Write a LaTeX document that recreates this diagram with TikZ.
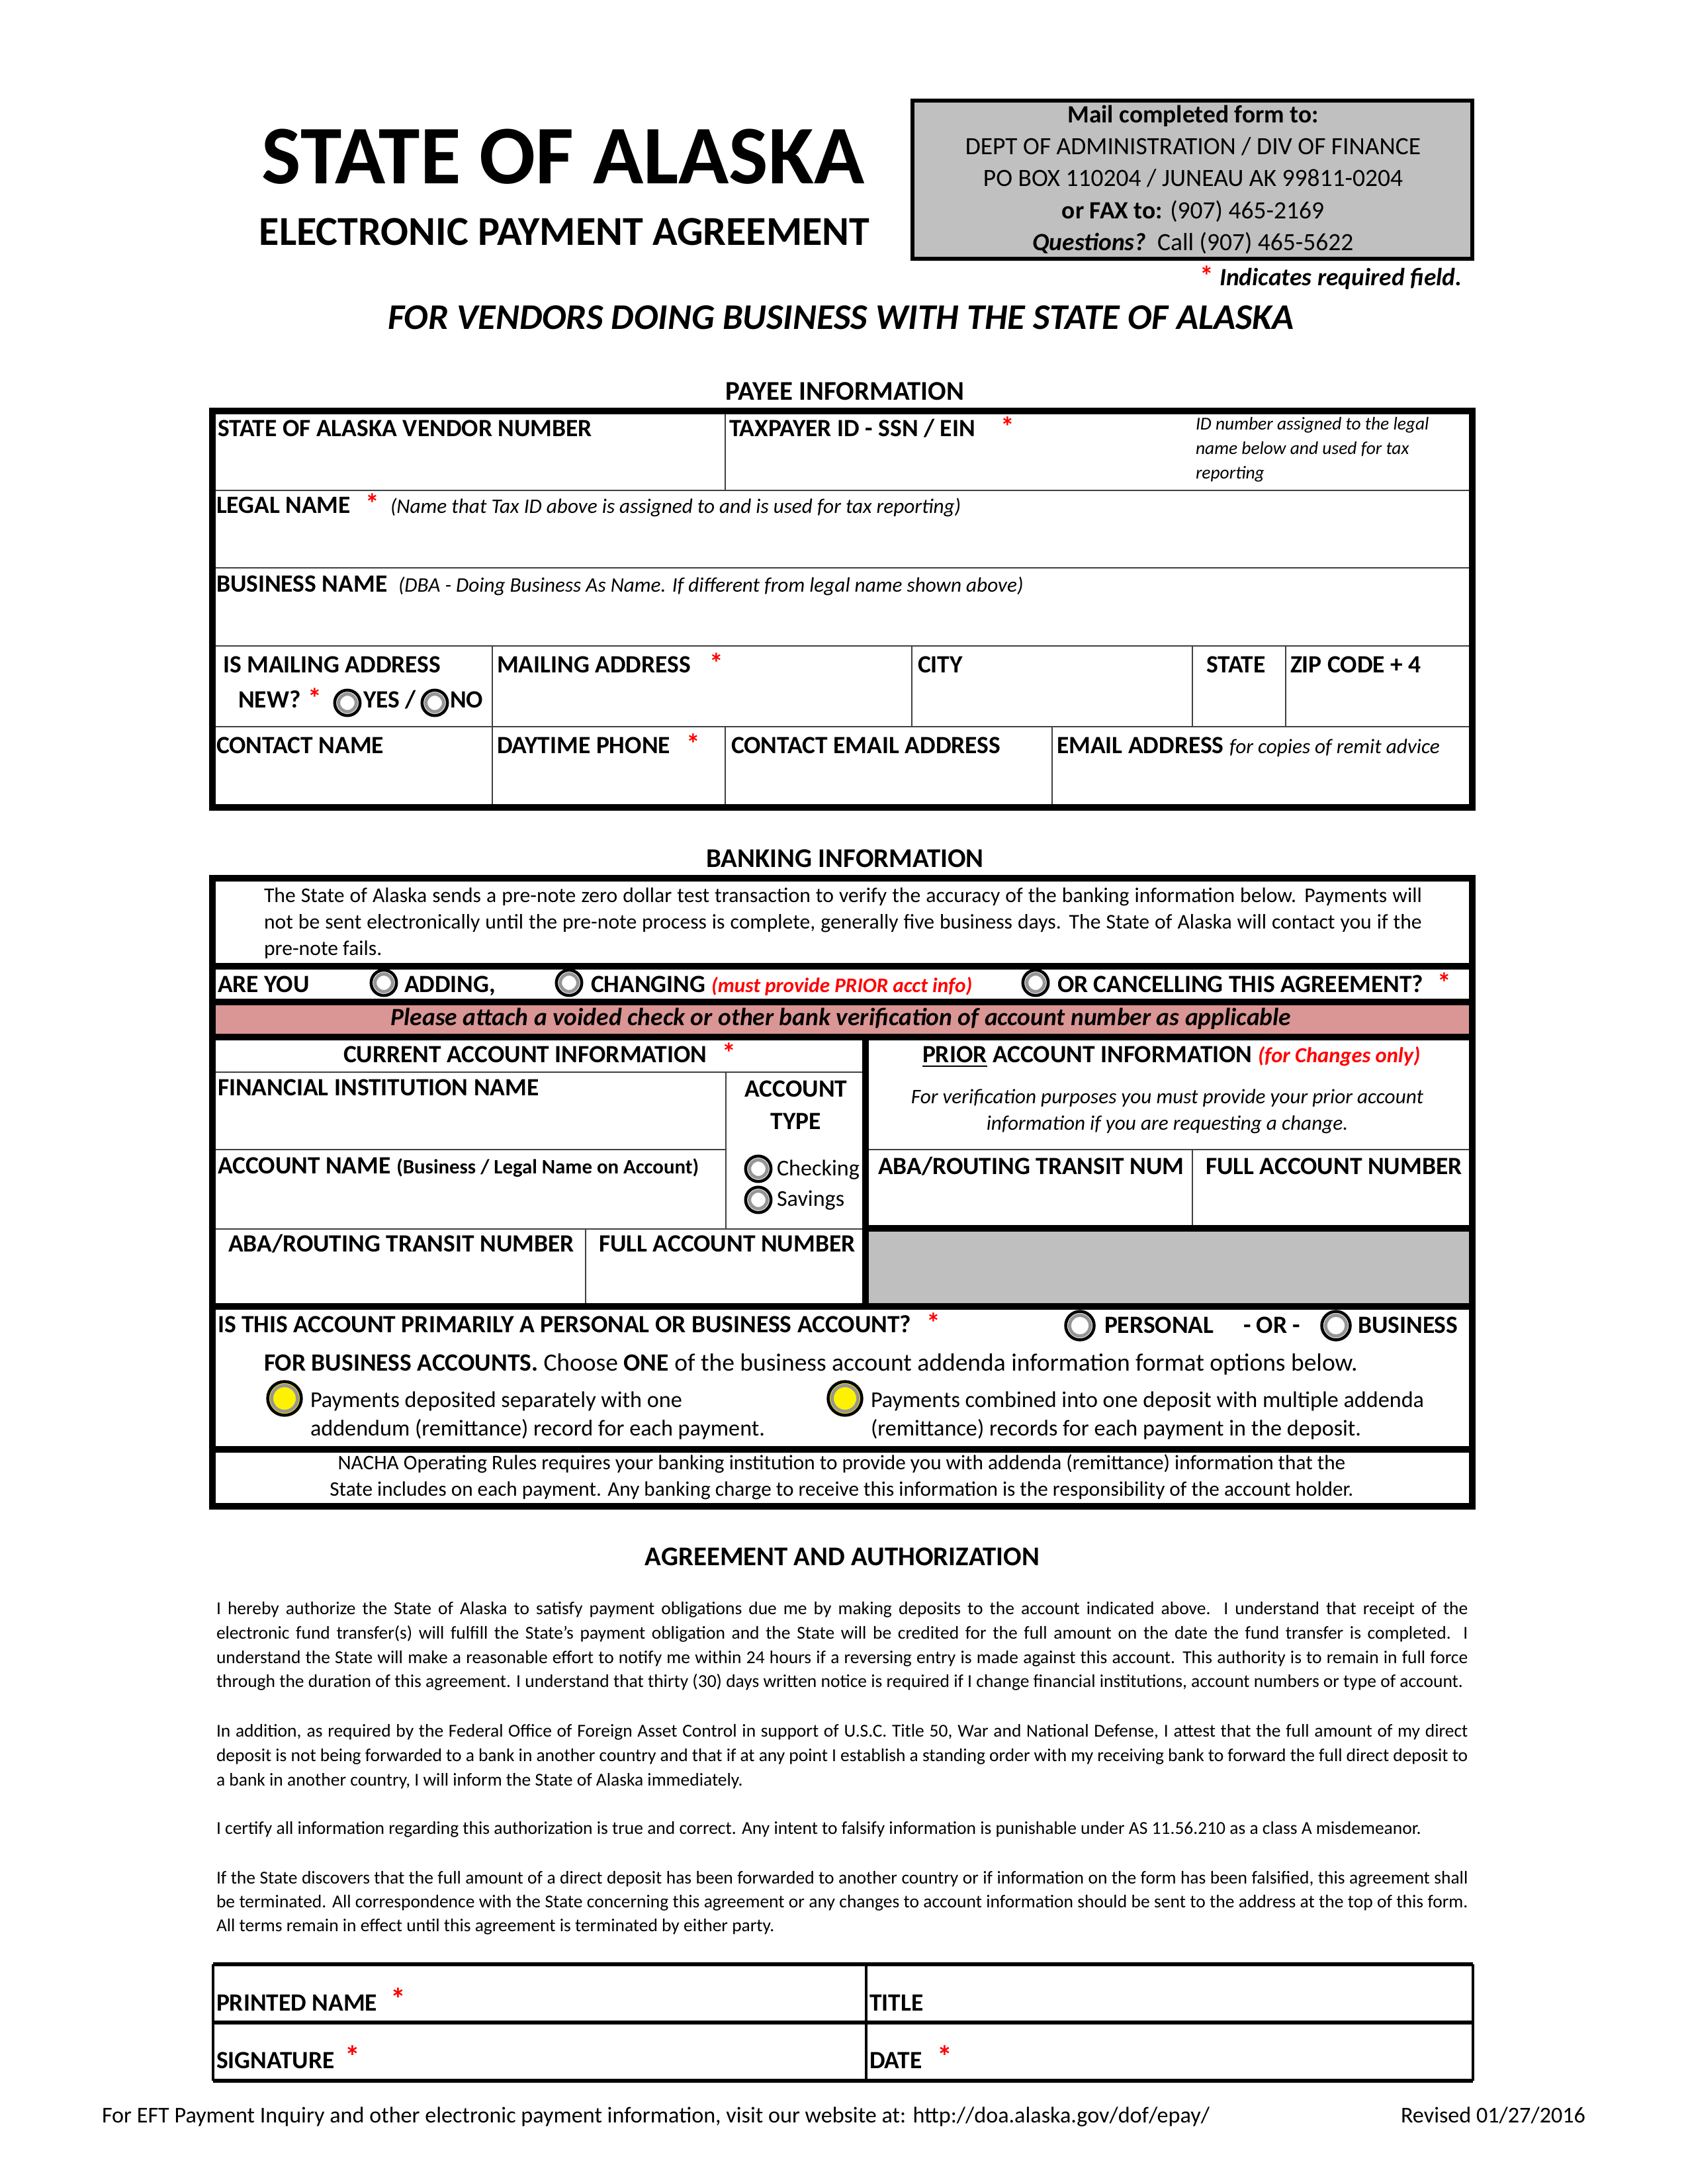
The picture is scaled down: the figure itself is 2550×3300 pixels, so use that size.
\documentclass[tikz,border=0pt]{standalone}
\usepackage{fontspec}
\setmainfont{Carlito}
\definecolor{reqred}{RGB}{255,0,0}
\definecolor{boxgray}{RGB}{192,192,192}
\definecolor{pinkband}{RGB}{217,150,148}
\definecolor{shadegray}{RGB}{191,191,191}
\definecolor{ringgray}{RGB}{150,150,150}
\newcommand\fz[1]{\fontsize{#1}{#1}\selectfont}
\newcommand\req{{\color{reqred}*}}
\newcommand\jl[2]{\makebox[#1][s]{#2}}
\begin{document}
\begin{tikzpicture}[x=0.24pt,y=-0.24pt,
  every node/.style={inner sep=0pt,outer sep=0pt},
  lt/.style={anchor=base west},
  ct/.style={anchor=base},
  rt/.style={anchor=base east},
  thickb/.style={line width=2.2pt,draw=black},
  thinr/.style={line width=0.5pt,draw=black!75},
  sigh/.style={line width=1.3pt,draw=black},
  sigv/.style={line width=0.8pt,draw=black},
  lab/.style={font=\fz{9}\bfseries},
  head/.style={font=\fz{9.8}\bfseries},
  ast/.style={font=\fz{10}\bfseries,text=reqred},
  radio/.style={circle,minimum size=#1,inner sep=0pt,draw=black,line width=1.1pt,fill=white,
    path picture={\draw[ringgray,line width=1.2pt] (path picture bounding box.center) circle ({#1/2-1.4pt});}},
  radio/.default=9.2pt,
  yradio/.style={radio=12.2pt,fill=yellow},
  agr/.style={font=\fz{6.6}},
]
\useasboundingbox (0,0) rectangle (2550,3300);
\fill[white] (0,0) rectangle (2550,3300);

% ---------------- header ----------------
\node[ct,font=\fz{30.2}\bfseries] (title) at (851,277) {STATE OF ALASKA};
\node[ct,font=\fz{14.9}\bfseries] (subtitle) at (853,370) {ELECTRONIC PAYMENT AGREEMENT};
\draw[line width=1.5pt,fill=boxgray] (1379,152) rectangle (2225,391);
\node[ct,font=\fz{9}\bfseries] (mail1) at (1803,185) {Mail completed form to:};
\node[ct,font=\fz{9}] (mail2) at (1803,233) {DEPT OF ADMINISTRATION / DIV OF FINANCE};
\node[ct,font=\fz{9}] (mail3) at (1803,281) {PO BOX 110204 / JUNEAU AK 99811-0204};
\node[ct,font=\fz{9}] (mail4) at (1803,330) {\textbf{or FAX to:} (907) 465-2169};
\node[ct,font=\fz{9}] (mail5) at (1803,378) {\textbf{\textit{Questions?}}\ \ Call (907) 465-5622};
\node[lt,ast] (reqast) at (1813,431) {*};
\node[lt,font=\fz{9}\bfseries\itshape] (reqtxt) at (1843,431) {Indicates required field.};
\node[ct,font=\fz{13.1}\bfseries\itshape] (vendors) at (1271,497) {FOR VENDORS DOING BUSINESS WITH THE STATE OF ALASKA};

% ---------------- payee information ----------------
\node[ct,head] (payeehd) at (1277,604) {PAYEE INFORMATION};
\foreach \yy in {741,858,976,1098} \draw[thinr] (321,\yy) -- (2225,\yy);
\draw[thinr] (1096,621) -- (1096,741);
\draw[thinr] (744,976) -- (744,1220);
\draw[thinr] (1378,976) -- (1378,1098);
\draw[thinr] (1802,976) -- (1802,1098);
\draw[thinr] (1943,976) -- (1943,1098);
\draw[thinr] (1096,1098) -- (1096,1220);
\draw[thinr] (1590,1098) -- (1590,1220);
\draw[thickb] (321,621) rectangle (2225,1220);

\node[lt,lab] (vendno) at (329,659) {STATE OF ALASKA VENDOR NUMBER};
\node[lt,lab] (taxid) at (1102,659) {TAXPAYER ID - SSN / EIN};
\node[lt,ast] (taxast) at (1512,659) {*};
\node[lt,font=\fz{6.6}\itshape] (idn1) at (1807,649) {ID number assigned to the legal};
\node[lt,font=\fz{6.6}\itshape] (idn2) at (1807,686) {name below and used for tax};
\node[lt,font=\fz{6.6}\itshape] (idn3) at (1807,723) {reporting};
\node[lt,lab] (legal) at (327,775) {LEGAL NAME};
\node[lt,ast] (legalast) at (552,775) {*};
\node[lt,font=\fz{7.5}\itshape] (legalnote) at (590,775) {(Name that Tax ID above is assigned to and is used for tax reporting)};
\node[lt,lab] (busname) at (327,894) {BUSINESS NAME};
\node[lt,font=\fz{7.5}\itshape] (busnote) at (602,894) {(DBA - Doing Business As Name. If different from legal name shown above)};
\node[lt,lab] (ismail) at (337,1016) {IS MAILING ADDRESS};
\node[lt,lab] (newq) at (360,1069) {NEW?};
\node[lt,ast] (newast) at (465,1069) {*};
\node[radio] (ryes) at (525,1062) {};
\node[lt,lab] (yes) at (549,1069) {YES /};
\node[radio] (rno) at (657,1062) {};
\node[lt,lab] (no) at (680,1069) {NO};
\node[lt,lab] (mailaddr) at (751,1016) {MAILING ADDRESS};
\node[lt,ast] (mailast) at (1072,1016) {*};
\node[lt,lab] (city) at (1387,1016) {CITY};
\node[lt,lab] (state) at (1823,1016) {STATE};
\node[lt,lab] (zip) at (1950,1016) {ZIP CODE + 4};
\node[lt,lab] (contact) at (327,1138) {CONTACT NAME};
\node[lt,lab] (phone) at (751,1138) {DAYTIME PHONE};
\node[lt,ast] (phoneast) at (1037,1138) {*};
\node[lt,lab] (cemail) at (1105,1138) {CONTACT EMAIL ADDRESS};
\node[lt,lab] (email) at (1597,1138) {EMAIL ADDRESS {\fz{7.5}\mdseries\itshape for copies of remit advice}};

% ---------------- banking information ----------------
\node[ct,head] (bankhd) at (1277,1310) {BANKING INFORMATION};
\fill[pinkband] (321,1514) rectangle (2225,1567);
\fill[shadegray] (1308,1856) rectangle (2225,1974);
\draw[thinr] (321,1620) -- (1308,1620);
\draw[thinr] (321,1737) -- (1097,1737);
\draw[thinr] (1308,1737) -- (2225,1737);
\draw[thinr] (321,1857) -- (1308,1857);
\draw[thinr] (1097,1620) -- (1097,1857);
\draw[thinr] (885,1857) -- (885,1974);
\draw[thinr] (1802,1737) -- (1802,1856);
\foreach \yy in {1460,1514,1567,1974,2190} \draw[thickb] (321,\yy) -- (2225,\yy);
\draw[thickb] (1308,1856) -- (2225,1856);
\draw[thickb] (1308,1567) -- (1308,1974);
\draw[thickb] (321,1327) rectangle (2225,2276);

\node[lt,font=\fz{7.6}] (pre1) at (399,1363) {\jl{420pt}{The State of Alaska sends a pre-note zero dollar test transaction to verify the accuracy of the banking information below. Payments will}};
\node[lt,font=\fz{7.6}] (pre2) at (399,1403) {\jl{420pt}{not be sent electronically until the pre-note process is complete, generally five business days. The State of Alaska will contact you if the}};
\node[lt,font=\fz{7.6}] (pre3) at (399,1443) {pre-note fails.};

\node[lt,lab] (areyou) at (329,1499) {ARE YOU};
\node[radio] (radd) at (580,1485) {};
\node[lt,lab] (adding) at (611,1499) {ADDING,};
\node[radio] (rchg) at (860,1485) {};
\node[lt,lab] (changing) at (893,1499) {CHANGING};
\node[lt,font=\fz{7.5}\bfseries\itshape,text=reqred] (chgnote) at (1075,1499) {(must provide PRIOR acct info)};
\node[radio] (rcan) at (1565,1485) {};
\node[lt,lab] (cancel) at (1598,1499) {OR CANCELLING THIS AGREEMENT?};
\node[lt,ast] (cancelast) at (2172,1499) {*};
\node[ct,font=\fz{9}\bfseries\itshape] (attach) at (1271,1549) {Please attach a voided check or other bank verification of account number as applicable};

\node[lt,lab] (curhd) at (519,1605) {CURRENT ACCOUNT INFORMATION};
\node[lt,ast] (curast) at (1091,1605) {*};
\node[lt,lab] (priorhd) at (1394,1605) {\underline{PRIOR} ACCOUNT INFORMATION {\fz{7.8}\itshape\color{reqred}(for Changes only)}};
\node[ct,font=\fz{7.5}\itshape] (ver1) at (1764,1667) {For verification purposes you must provide your prior account};
\node[ct,font=\fz{7.5}\itshape] (ver2) at (1764,1707) {information if you are requesting a change.};
\node[lt,lab] (finname) at (329,1655) {FINANCIAL INSTITUTION NAME};
\node[ct,lab] (acct1) at (1203,1657) {ACCOUNT};
\node[ct,lab] (acct2) at (1203,1706) {TYPE};
\node[lt,lab] (acctname) at (329,1773) {ACCOUNT NAME {\fz{7.4}(Business / Legal Name on Account)}};
\node[radio] (rchk) at (1146,1766) {};
\node[lt,font=\fz{8.2}] (checking) at (1174,1776) {Checking};
\node[radio] (rsav) at (1146,1813) {};
\node[lt,font=\fz{8.2}] (savings) at (1174,1822) {Savings};
\node[lt,lab] (aba) at (345,1891) {ABA/ROUTING TRANSIT NUMBER};
\node[lt,lab] (fullacct) at (905,1891) {FULL ACCOUNT NUMBER};
\node[lt,lab] (pаba) at (1327,1774) {ABA/ROUTING TRANSIT NUM};
\node[lt,lab] (pfull) at (1822,1774) {FULL ACCOUNT NUMBER};

\node[lt,lab] (isthis) at (329,2013) {IS THIS ACCOUNT PRIMARILY A PERSONAL OR BUSINESS ACCOUNT?};
\node[lt,ast] (isthisast) at (1400,2013) {*};
\node[radio=10.3pt] (rpers) at (1632,2003) {};
\node[lt,lab] (personal) at (1669,2014) {PERSONAL};
\node[lt,lab] (ortxt) at (1879,2014) {- OR -};
\node[radio=10.3pt] (rbus) at (2019,2003) {};
\node[lt,lab] (business) at (2052,2014) {BUSINESS};
\node[lt,font=\fz{9}] (forbus) at (399,2071) {\textbf{FOR BUSINESS ACCOUNTS.} Choose \textbf{ONE} of the business account addenda information format options below.};
\node[yradio] (ry1) at (430,2113) {};
\node[lt,font=\fz{8.2}] (opt1a) at (469,2126) {Payments deposited separately with one};
\node[lt,font=\fz{8.2}] (opt1b) at (469,2169) {addendum (remittance) record for each payment.};
\node[yradio] (ry2) at (1277,2113) {};
\node[lt,font=\fz{8.2}] (opt2a) at (1316,2126) {Payments combined into one deposit with multiple addenda};
\node[lt,font=\fz{8.2}] (opt2b) at (1316,2169) {(remittance) records for each payment in the deposit.};
\node[ct,font=\fz{7.5}] (nacha1) at (1272,2220) {NACHA Operating Rules requires your banking institution to provide you with addenda (remittance) information that the};
\node[ct,font=\fz{7.5}] (nacha2) at (1272,2260) {State includes on each payment. Any banking charge to receive this information is the responsibility of the account holder.};

% ---------------- agreement ----------------
\node[ct,head] (agrhd) at (1273,2365) {AGREEMENT AND AUTHORIZATION};
\node[lt,agr] (a1) at (327,2439) {\jl{454pt}{I hereby authorize the State of Alaska to satisfy payment obligations due me by making deposits to the account indicated above. I understand that receipt of the}};
\node[lt,agr] (a2) at (327,2476) {\jl{454pt}{electronic fund transfer(s) will fulfill the State’s payment obligation and the State will be credited for the full amount on the date the fund transfer is completed. I}};
\node[lt,agr] (a3) at (327,2513) {\jl{454pt}{understand the State will make a reasonable effort to notify me within 24 hours if a reversing entry is made against this account. This authority is to remain in full force}};
\node[lt,agr] (a4) at (327,2549) {through the duration of this agreement. I understand that thirty (30) days written notice is required if I change financial institutions, account numbers or type of account.};
\node[lt,agr] (b1) at (327,2624) {\jl{454pt}{In addition, as required by the Federal Office of Foreign Asset Control in support of U.S.C. Title 50, War and National Defense, I attest that the full amount of my direct}};
\node[lt,agr] (b2) at (327,2661) {\jl{454pt}{deposit is not being forwarded to a bank in another country and that if at any point I establish a standing order with my receiving bank to forward the full direct deposit to}};
\node[lt,agr] (b3) at (327,2698) {a bank in another country, I will inform the State of Alaska immediately.};
\node[lt,agr] (c1) at (327,2771) {I certify all information regarding this authorization is true and correct. Any intent to falsify information is punishable under AS 11.56.210 as a class A misdemeanor.};
\node[lt,agr] (d1) at (327,2846) {\jl{454pt}{If the State discovers that the full amount of a direct deposit has been forwarded to another country or if information on the form has been falsified, this agreement shall}};
\node[lt,agr] (d2) at (327,2882) {\jl{454pt}{be terminated. All correspondence with the State concerning this agreement or any changes to account information should be sent to the address at the top of this form.}};
\node[lt,agr] (d3) at (327,2918) {All terms remain in effect until this agreement is terminated by either party.};

% ---------------- signature ----------------
\draw[sigv] (322,2968) -- (322,3144);
\draw[sigv] (1309,2968) -- (1309,3144);
\draw[sigv] (2226,2968) -- (2226,3144);
\draw[sigh] (322,2968) -- (2226,2968);
\draw[sigh] (322,3056) -- (2226,3056);
\draw[sigh] (322,3144) -- (2226,3144);
\node[lt,lab] (pname) at (327,3038) {PRINTED NAME};
\node[lt,ast,font=\fz{11}\bfseries] (pnameast) at (590,3036) {*};
\node[lt,lab] (titlef) at (1314,3038) {TITLE};
\node[lt,lab] (sig) at (327,3125) {SIGNATURE};
\node[lt,ast,font=\fz{11}\bfseries] (sigast) at (521,3123) {*};
\node[lt,lab] (date) at (1314,3125) {DATE};
\node[lt,ast,font=\fz{11}\bfseries] (dateast) at (1416,3123) {*};

% ---------------- footer ----------------
\node[lt,font=\fz{8.2}] (foot) at (154,3207) {For EFT Payment Inquiry and other electronic payment information, visit our website at: http://doa.alaska.gov/dof/epay/};
\node[rt,font=\fz{8.2}] (rev) at (2396,3207) {Revised 01/27/2016};
\end{tikzpicture}
\end{document}
